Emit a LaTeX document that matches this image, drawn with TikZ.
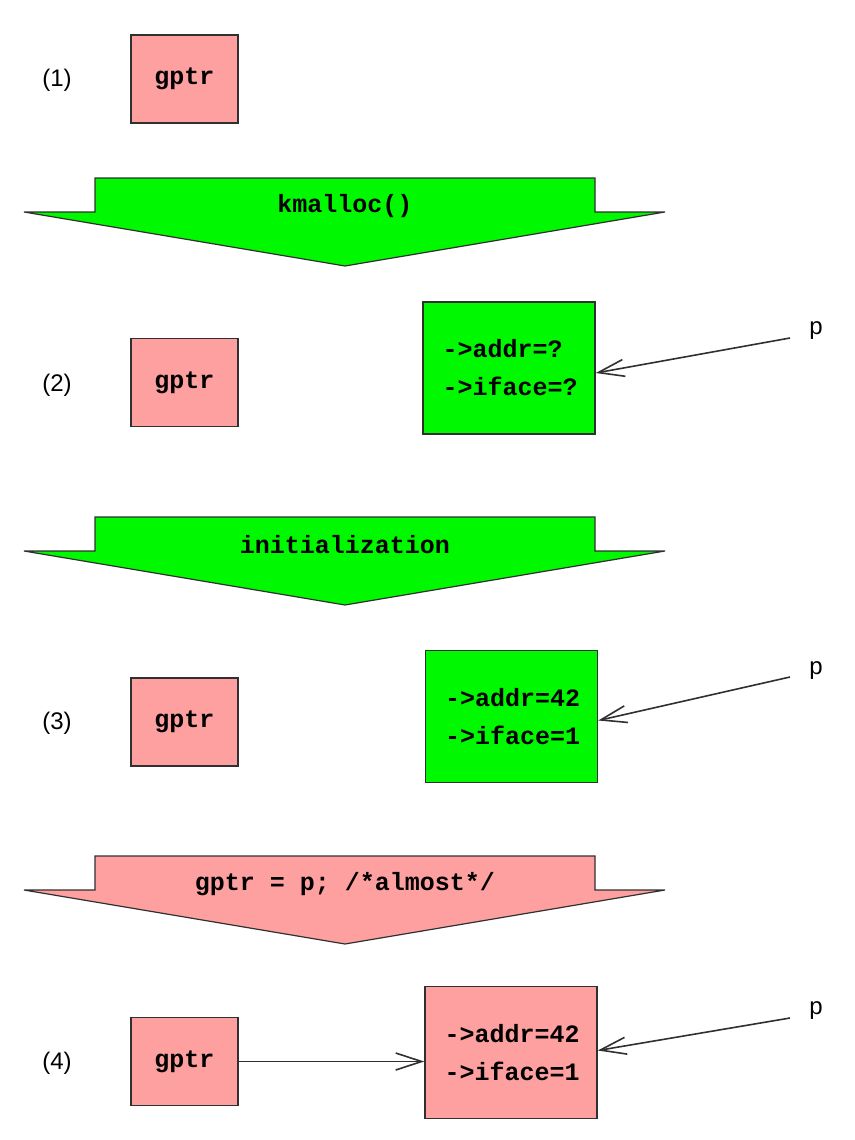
\documentclass[tikz,border=0pt]{standalone}
\usepackage{fontspec}
\setmainfont{Liberation Sans}
\setmonofont{Liberation Mono}
\usetikzlibrary{arrows.meta}
\definecolor{pinkf}{HTML}{FFA0A0}
\definecolor{greenf}{HTML}{00F800}
\definecolor{edge}{HTML}{303030}
\tikzset{
  lbl/.style={font=\fontsize{24}{28}\selectfont, inner sep=0pt},
  code/.style={font=\fontsize{25}{38}\selectfont\ttfamily\bfseries},
  gbox/.style={draw=edge, line width=1.5pt, fill=pinkf, minimum width=107pt, minimum height=88pt, code},
  membox/.style={draw=edge, line width=1.5pt, minimum width=172pt, minimum height=132pt, text width=133pt, inner xsep=19pt, align=left, code},
  bigarrow/.style={draw=edge, line width=1.2pt, line join=miter},
  ptr/.style={draw=edge, line width=1.6pt, -{Straight Barb[length=26pt, width=17pt, line width=1.6pt]}},
}
\begin{document}
\begin{tikzpicture}[x=1pt, y=-1pt]
\path[use as bounding box] (0,0) rectangle (854,1140);

% stage labels
\node[lbl] (l1) at (57,80) {(1)};
\node[lbl] (l2) at (57,385) {(2)};
\node[lbl] (l3) at (57,723) {(3)};
\node[lbl] (l4) at (57,1063) {(4)};

% gptr boxes
\node[gbox] (g1) at (184.5,79) {gptr};
\node[gbox] (g2) at (184.5,382.5) {gptr};
\node[gbox] (g3) at (184.5,722) {gptr};
\node[gbox] (g4) at (184.5,1061.5) {gptr};

% big arrows
\path[bigarrow, fill=greenf] (95,178) -- (595,178) -- (595,212) -- (665,212) -- (345,266) -- (24,212) -- (95,212) -- cycle;
\node[code] (a1) at (345,206) {kmalloc()};
\path[bigarrow, fill=greenf] (95,517) -- (595,517) -- (595,551) -- (665,551) -- (345,605) -- (24,551) -- (95,551) -- cycle;
\node[code] (a2) at (345,545) {initialization};
\path[bigarrow, fill=pinkf] (95,856) -- (595,856) -- (595,890) -- (665,890) -- (345,944) -- (24,890) -- (95,890) -- cycle;
\node[code] (a3) at (345,884) {gptr = p; /*almost*/};

% memory boxes
\node[membox, fill=greenf] (b2) at (509,368) {->addr=?\\->iface=?};
\node[membox, fill=greenf] (b3) at (511.5,716.5) {->addr=42\\->iface=1};
\node[membox, fill=pinkf] (b4) at (511,1052.5) {->addr=42\\->iface=1};

% p labels
\node[lbl] (p2) at (816,331) {p};
\node[lbl] (p3) at (816,671) {p};
\node[lbl] (p4) at (816,1011) {p};
\coordinate (s2) at (790,338);
\coordinate (s3) at (790,677);
\coordinate (s4) at (790,1018);

\draw[ptr] (s2) -- ([yshift=-5pt]b2.east);
\draw[ptr] (s3) -- ([yshift=-4pt]b3.east);
\draw[ptr] (s4) -- ([yshift=2pt]b4.east);
\draw[ptr] (g4.east) -- (g4.east -| b4.west);
\end{tikzpicture}
\end{document}
